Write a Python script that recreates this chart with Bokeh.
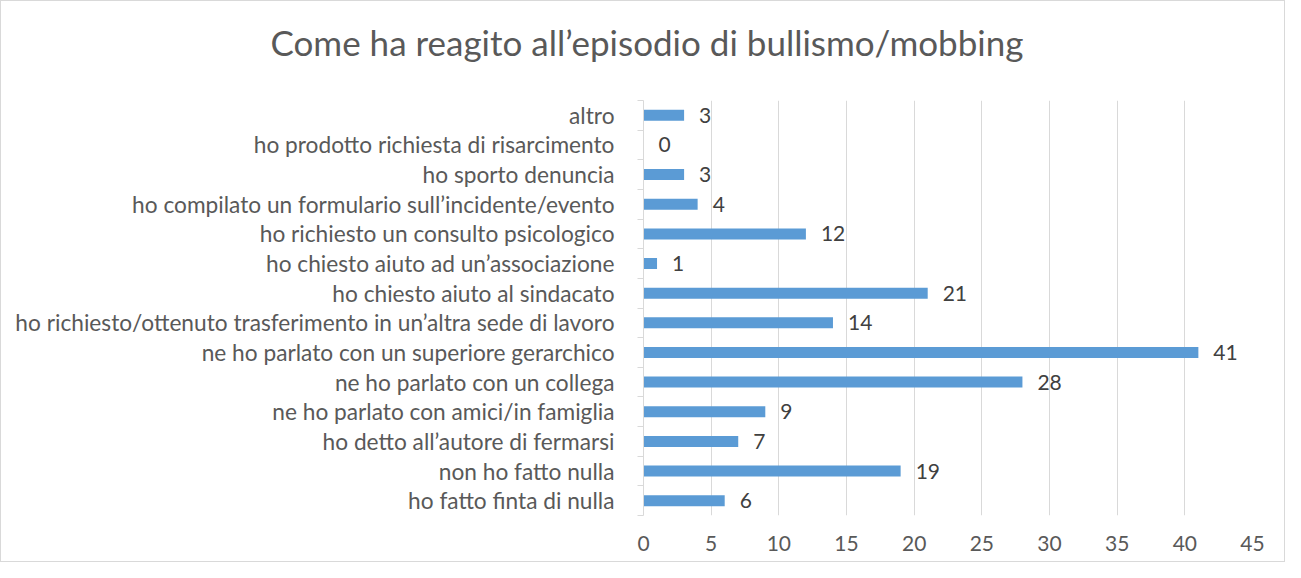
from bokeh.plotting import figure
from bokeh.models import Range1d, FixedTicker, ColumnDataSource, LabelSet, Title
from bokeh.core.properties import value
from bokeh.embed import file_html
from bokeh.resources import INLINE

title_text = "Come ha reagito all’episodio di bullismo/mobbing"

# bottom-to-top order
categories = [
    "ho fatto finta di nulla",
    "non ho fatto nulla",
    "ho detto all’autore di fermarsi",
    "ne ho parlato con amici/in famiglia",
    "ne ho parlato con un collega",
    "ne ho parlato con un superiore gerarchico",
    "ho richiesto/ottenuto trasferimento in un’altra sede di lavoro",
    "ho chiesto aiuto al sindacato",
    "ho chiesto aiuto ad un’associazione",
    "ho richiesto un consulto psicologico",
    "ho compilato un formulario sull’incidente/evento",
    "ho sporto denuncia",
    "ho prodotto richiesta di risarcimento",
    "altro",
]
values = [6, 19, 7, 9, 28, 41, 14, 21, 1, 12, 4, 3, 0, 3]
x_ticks = [0, 5, 10, 15, 20, 25, 30, 35, 40, 45]

FONT = "Lato"
TEXT = "#595959"
GRID = "#d9d9d9"

positions = list(range(1, len(categories) + 1))
src = ColumnDataSource(dict(pos=positions, val=values, txt=[str(v) for v in values]))

p = figure(width=1285, height=562, output_backend="svg", toolbar_location=None, title=None,
           x_range=Range1d(0, 45), y_range=Range1d(0.5, len(categories) + 0.5),
           min_border_left=642, min_border_right=34, min_border_top=99, min_border_bottom=48,
           styles={"border": "1px solid #d9d9d9"})
p.outline_line_color = None

# spacer between frame and title, then the title itself
p.add_layout(Title(text=" ", text_font_size="1px", standoff=35), "above")
p.add_layout(Title(text=title_text, align="left", offset=-373, standoff=0,
                   text_font=FONT, text_font_size="35px", text_font_style="normal",
                   text_color=TEXT), "above")

p.hbar(y="pos", right="val", left=0, height=0.37, fill_color="#5B9BD5", line_color=None, source=src)

labels = LabelSet(x="val", y="pos", text="txt", source=src, x_offset=15,
                  text_baseline="middle", text_align="left",
                  text_font=value(FONT), text_font_size="21px", text_color="#404040")
p.add_layout(labels)

ya = p.yaxis[0]
ya.ticker = FixedTicker(ticks=positions, minor_ticks=[i + 0.5 for i in range(0, len(categories) + 1)])
ya.major_label_overrides = {pos: cat for pos, cat in zip(positions, categories)}
ya.major_tick_line_color = None
ya.major_tick_out = 0
ya.major_tick_in = 0
ya.minor_tick_out = 6
ya.minor_tick_in = 0
ya.minor_tick_line_color = GRID
ya.axis_line_color = GRID
ya.major_label_standoff = 23
ya.major_label_text_font = FONT
ya.major_label_text_font_size = "22.7px"
ya.major_label_text_color = TEXT

xa = p.xaxis[0]
xa.ticker = FixedTicker(ticks=x_ticks)
xa.axis_line_color = None
xa.major_tick_line_color = None
xa.minor_tick_line_color = None
xa.major_tick_out = 0
xa.major_label_standoff = 20
xa.major_label_text_font = FONT
xa.major_label_text_font_size = "21px"
xa.major_label_text_color = TEXT

p.ygrid.visible = False
p.xgrid.grid_line_color = GRID
p.xgrid.grid_line_width = 1

open("out.html", "w").write(file_html(p, INLINE))
